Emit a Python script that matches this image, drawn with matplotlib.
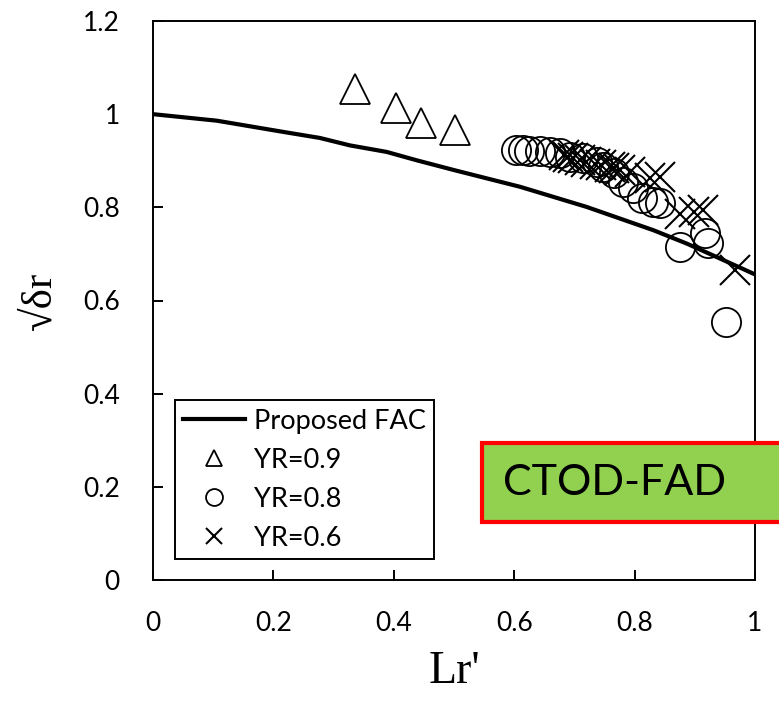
import matplotlib
matplotlib.use('Agg')
import matplotlib.pyplot as plt
from matplotlib.patches import Rectangle

# proposed FAC curve
fac_lr = [0, 0.106, 0.216, 0.277, 0.327, 0.388, 0.438, 0.5, 0.61, 0.72, 0.831, 0.887, 0.942, 1.0]
fac_dr = [1.0, 0.986, 0.962, 0.949, 0.933, 0.919, 0.901, 0.880, 0.844, 0.801, 0.751, 0.722, 0.690, 0.656]

# YR=0.9
yr09_lr = [0.336, 0.403, 0.446, 0.502]
yr09_dr = [1.053, 1.013, 0.981, 0.966]

# YR=0.8
yr08_lr = [0.603, 0.614, 0.625, 0.643, 0.659, 0.676, 0.693, 0.715, 0.737, 0.748,
           0.765, 0.781, 0.798, 0.812, 0.831, 0.842, 0.875, 0.917, 0.922, 0.951]
yr08_dr = [0.924, 0.923, 0.921, 0.921, 0.919, 0.916, 0.908, 0.905, 0.898, 0.887,
           0.873, 0.855, 0.841, 0.819, 0.812, 0.810, 0.715, 0.744, 0.723, 0.553]

# YR=0.6
yr06_lr = [0.682, 0.690, 0.698, 0.709, 0.720, 0.734, 0.745, 0.759, 0.765, 0.776,
           0.792, 0.826, 0.842, 0.875, 0.898, 0.914, 0.967]
yr06_dr = [0.912, 0.908, 0.905, 0.901, 0.898, 0.894, 0.890, 0.887, 0.884, 0.880,
           0.876, 0.862, 0.866, 0.785, 0.790, 0.795, 0.665]

xticks = [0, 0.2, 0.4, 0.6, 0.8, 1]
yticks = [0, 0.2, 0.4, 0.6, 0.8, 1, 1.2]

plt.rcParams['font.family'] = ['Lato', 'DejaVu Sans']

fig = plt.figure(figsize=(7.79, 7.07), dpi=100)
ax = fig.add_axes([153/779, 1-580/707, 602/779, 559/707])

ax.plot(fac_lr, fac_dr, color='black', lw=3.0, label='Proposed FAC')
ax.plot(yr09_lr, yr09_dr, ls='none', marker='^', ms=21, mfc='none', mec='black', mew=1.3, label='YR=0.9')
ax.plot(yr08_lr, yr08_dr, ls='none', marker='o', ms=21, mfc='none', mec='black', mew=1.3, label='YR=0.8')
ax.plot(yr06_lr, yr06_dr, ls='none', marker='x', ms=21, mec='black', mew=1.5, label='YR=0.6')

ax.set_xlim(0, 1)
ax.set_ylim(0, 1.2)
ax.set_xticks(xticks)
ax.set_xticklabels(['0', '0.2', '0.4', '0.6', '0.8', '1'])
ax.set_yticks(yticks)
ax.set_yticklabels(['0', '0.2', '0.4', '0.6', '0.8', '1', '1.2'])
ax.tick_params(direction='in', length=7, width=1.4, labelsize=19)
ax.tick_params(axis='x', pad=22)
ax.tick_params(axis='y', pad=24)
for s in ax.spines.values():
    s.set_linewidth(1.4)

ax.set_xlabel("Lr'", fontsize=33, family=['Liberation Serif', 'DejaVu Serif'], va='center')
ax.xaxis.set_label_coords(0.5, -0.165)
ax.set_ylabel("√δr", fontsize=31, family=['Liberation Serif', 'DejaVu Serif'], va='center')
ax.yaxis.set_label_coords(-0.188, 0.5)

leg = ax.legend(loc='lower left', bbox_to_anchor=(0.0365, 0.0376), borderaxespad=0,
                fancybox=False, edgecolor='black', framealpha=1, fontsize=19.5,
                markerscale=0.58, handlelength=2.3, handletextpad=0.3, labelspacing=0.52,
                borderpad=0.3)
leg.get_frame().set_linewidth(1.4)

# CTOD-FAD tag box
box = Rectangle((482/779, 1-522/707), 0.45, 79/707, transform=fig.transFigure,
                facecolor='#92D050', edgecolor='#FF0000', linewidth=3, zorder=10)
fig.add_artist(box)
fig.text(503/779, 1-483/707, 'CTOD-FAD', fontsize=31, va='center', ha='left', zorder=11)

fig.savefig('out.png', dpi=100)
